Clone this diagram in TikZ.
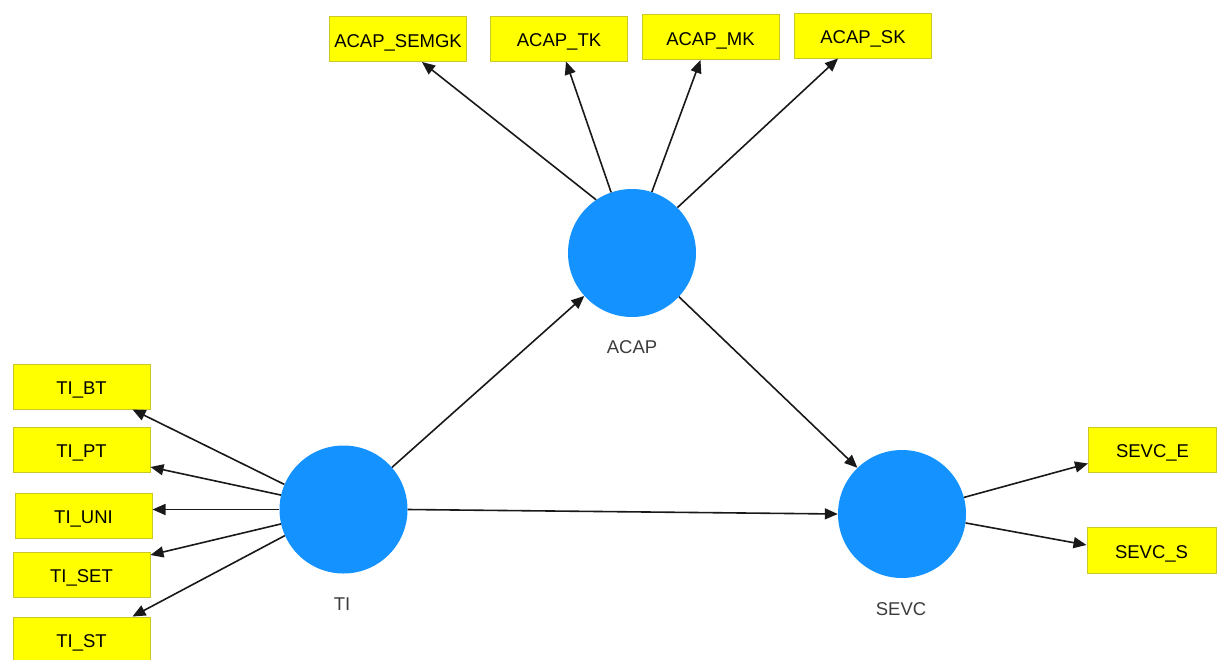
\documentclass[tikz,border=0pt]{standalone}
\usepackage{fontspec}
\setmainfont{Liberation Sans}
\usetikzlibrary{arrows.meta}
\definecolor{boxfill}{RGB}{255,255,0}
\definecolor{boxline}{RGB}{200,200,40}
\definecolor{latent}{RGB}{20,146,255}
\definecolor{lbl}{RGB}{60,60,60}
\tikzset{
  indbox/.style={draw=boxline, line width=1pt, fill=boxfill, minimum width=137pt, minimum height=45pt, inner sep=0pt, text height=16.5pt, text depth=0pt, font=\fontsize{18.5}{22}\selectfont, text=black},
  lat/.style={circle, fill=latent, minimum size=128pt, inner sep=0pt},
  latlbl/.style={font=\fontsize{18.5}{22}\selectfont, text=lbl},
  arr/.style={draw=black!90, line width=1.6pt, -{Triangle[length=13pt,width=11pt]}},
}
\begin{document}
\begin{tikzpicture}[x=1pt,y=-1pt]
\useasboundingbox (0,0) rectangle (1218,659);
% latent variables
\node[lat] (ACAP) at (632,253) {};
\node[lat] (TI) at (343.5,509.5) {};
\node[lat] (SEVC) at (902,514) {};
\node[latlbl] (lACAP) at (632,347) {ACAP};
\node[latlbl] (lTI) at (342,604) {TI};
\node[latlbl] (lSEVC) at (901,609) {SEVC};
% indicators
\node[indbox] (semgk) at (398,39) {ACAP\_SEMGK};
\node[indbox] (tk) at (559,38.5) {ACAP\_TK};
\node[indbox] (mk) at (710.5,37) {ACAP\_MK};
\node[indbox] (sk) at (863,35.5) {ACAP\_SK};
\node[indbox] (bt) at (81.5,386.5) {TI\_BT};
\node[indbox] (pt) at (81.5,449.5) {TI\_PT};
\node[indbox] (uni) at (83.5,515.5) {TI\_UNI};
\node[indbox] (tiset) at (81.5,574.5) {TI\_SET};
\node[indbox] (st) at (81.5,639.5) {TI\_ST};
\node[indbox, minimum width=128pt] (sevce) at (1152.5,449.5) {SEVC\_E};
\node[indbox, minimum width=129pt, minimum height=46pt] (sevcs) at (1151.5,550) {SEVC\_S};
% connectors
\draw[arr] (ACAP.124) -- ([xshift=24pt]semgk.south);
\draw[arr] (ACAP.109) -- ([xshift=7pt]tk.south);
\draw[arr] (ACAP.72) -- ([xshift=-10pt]mk.south);
\draw[arr] (ACAP.45) -- ([xshift=-25pt]sk.south);
\draw[arr] (TI.157) -- ([xshift=51pt]bt.south);
\draw[arr] (TI.167) -- ([yshift=-17.5pt]pt.east);
\draw[arr] (TI.west) -- (TI.west -| uni.east);
\draw[arr] (TI.193) -- ([yshift=19.5pt]tiset.east);
\draw[arr] (TI.204) -- ([xshift=51pt]st.north);
\draw[arr] (TI.41) -- (ACAP.222);
\draw[arr] (ACAP.317) -- (SEVC.134);
\draw[arr] (TI.east) -- (SEVC.west);
\draw[arr] (SEVC.15) -- ([yshift=-14pt]sevce.west);
\draw[arr] (SEVC.352) -- ([yshift=5pt]sevcs.west);
\end{tikzpicture}
\end{document}
